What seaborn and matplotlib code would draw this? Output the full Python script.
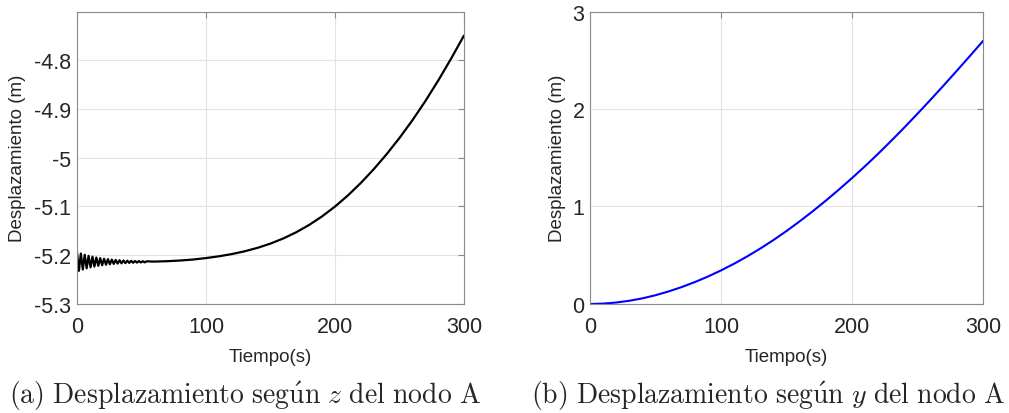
import numpy as np
import pandas as pd
import matplotlib
matplotlib.use("Agg")
import matplotlib.pyplot as plt
import seaborn as sns

# -----------------------------
# DATA
# -----------------------------
# (a) z displacement, start-up oscillation (half-period samples) + slow drift
t_z = [0, 1.5, 3, 4.5, 6, 7.5, 9, 10.5, 12, 13.5, 15, 16.5, 18, 19.5, 21,
       22.5, 24, 25.5, 27, 28.5, 30, 31.5, 33, 34.5, 36, 37.5, 39, 40.5,
       42, 43.5, 45, 46.5, 48, 49.5, 51, 52.5, 54,
       60, 70, 80, 90, 100, 110, 120, 130, 140, 150, 160, 170, 180, 190,
       200, 210, 220, 230, 240, 250, 260, 270, 280, 290, 300]
z_disp = [-5.1935, -5.2320, -5.1965, -5.2292, -5.1990, -5.2268, -5.2012,
          -5.2248, -5.2030, -5.2231, -5.2046, -5.2217, -5.2059, -5.2205,
          -5.2071, -5.2194, -5.2080, -5.2185, -5.2089, -5.2178, -5.2096,
          -5.2171, -5.2102, -5.2166, -5.2107, -5.2161, -5.2111, -5.2157,
          -5.2115, -5.2154, -5.2118, -5.2151, -5.2120, -5.2148, -5.2123,
          -5.2146, -5.2125,
          -5.2130, -5.2122, -5.2108, -5.2088, -5.2058, -5.2022, -5.1976,
          -5.1919, -5.1848, -5.1761, -5.1655, -5.1528, -5.1378, -5.1203,
          -5.1002, -5.0774, -5.0519, -5.0237, -4.9929, -4.9595, -4.9233,
          -4.8841, -4.8419, -4.7969, -4.7494]

# (b) y displacement
t_y = [0, 10, 20, 30, 40, 50, 60, 70, 80, 90, 100, 110, 120, 130, 140, 150,
       160, 170, 180, 190, 200, 210, 220, 230, 240, 250, 260, 270, 280, 290, 300]
y_disp = [0.000, 0.004, 0.015, 0.033, 0.058, 0.090, 0.129, 0.174, 0.225,
          0.282, 0.345, 0.414, 0.489, 0.570, 0.657, 0.750, 0.849, 0.953,
          1.062, 1.176, 1.294, 1.417, 1.545, 1.678, 1.815, 1.956, 2.100,
          2.247, 2.397, 2.549, 2.703]

x_ticks = [0, 100, 200, 300]
z_ticks = [-5.3, -5.2, -5.1, -5.0, -4.9, -4.8]
z_ticklabels = ["-5.3", "-5.2", "-5.1", "-5", "-4.9", "-4.8"]
y_ticks = [0, 1, 2, 3]
y_ticklabels = ["0", "1", "2", "3"]

captions = [r"$\mathrm{(a)\ Desplazamiento\ seg\acute{u}n\ }z\mathrm{\ del\ nodo\ A}$",
            r"$\mathrm{(b)\ Desplazamiento\ seg\acute{u}n\ }y\mathrm{\ del\ nodo\ A}$"]

# -----------------------------
# STYLE
# -----------------------------
sns.set_style("white")
plt.rcParams["font.family"] = ["Liberation Sans", "DejaVu Sans"]
plt.rcParams["mathtext.fontset"] = "cm"
plt.rcParams["axes.unicode_minus"] = False

frame_col = "#8a8a8a"

fig = plt.figure(figsize=(10.09, 4.14), dpi=100)
ax1 = fig.add_axes([0.0763, 0.2633, 0.3835, 0.7065])
ax2 = fig.add_axes([0.5847, 0.2633, 0.3900, 0.7065])

df_z = pd.DataFrame({"t": t_z, "d": z_disp})
df_y = pd.DataFrame({"t": t_y, "d": y_disp})

sns.lineplot(data=df_z, x="t", y="d", ax=ax1, color="black", linewidth=1.6,
             estimator=None, sort=False)
sns.lineplot(data=df_y, x="t", y="d", ax=ax2, color="#0000ff", linewidth=1.5,
             estimator=None, sort=False)

for ax, yt, ytl, ylim, ylab_x in [(ax1, z_ticks, z_ticklabels, (-5.3, -4.7), -0.132),
                                  (ax2, y_ticks, y_ticklabels, (0, 3), -0.061)]:
    ax.set_xlim(0, 300)
    ax.set_ylim(*ylim)
    ax.set_xticks(x_ticks)
    ax.set_xticklabels([str(v) for v in x_ticks])
    ax.set_yticks(yt)
    ax.set_yticklabels(ytl)
    ax.grid(True, color="#e3e3e3", linewidth=0.8)
    ax.set_axisbelow(True)
    for sp in ax.spines.values():
        sp.set_visible(True)
        sp.set_color(frame_col)
        sp.set_linewidth(0.8)
    ax.tick_params(direction="in", length=4, width=0.8, color=frame_col,
                   top=True, right=True, labelsize=15.5, labelcolor="#262626")
    ax.tick_params(axis="x", pad=9)
    ax.tick_params(axis="y", pad=4)
    ax.set_xlabel("Tiempo(s)", fontsize=13.5, color="#262626")
    ax.set_ylabel("Desplazamiento (m)", fontsize=13.5, color="#262626")
    ax.xaxis.set_label_coords(0.5, -0.15)
    ax.yaxis.set_label_coords(ylab_x, 0.5)

fig.text(245 / 1009, 0.044, captions[0], ha="center", va="center", fontsize=20)
fig.text(768 / 1009, 0.044, captions[1], ha="center", va="center", fontsize=20)

fig.savefig("out.png", dpi=100)
